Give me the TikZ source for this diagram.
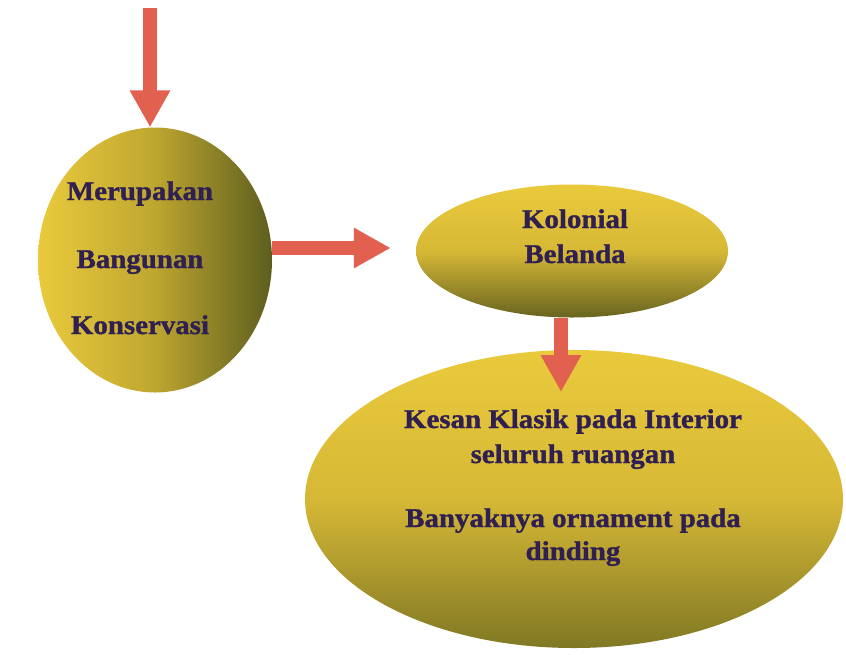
\documentclass[tikz,border=0pt]{standalone}
\usepackage{fontspec}
\setmainfont{Liberation Serif}
\newfontfamily\lblfont[FakeStretch=1.07,FakeBold=1.2]{Liberation Serif}
\usetikzlibrary{shapes.geometric,arrows.meta}
\definecolor{goldA}{RGB}{234,202,60}
\definecolor{goldM}{RGB}{214,184,54}
\definecolor{goldR}{RGB}{190,166,48}
\definecolor{oliveA}{RGB}{92,94,30}
\definecolor{oliveB}{RGB}{104,100,32}
\definecolor{oliveC}{RGB}{128,120,36}
\definecolor{inkpurple}{RGB}{48,32,82}
\definecolor{arrowred}{RGB}{226,96,80}
\tikzset{
  blob/.style={ellipse, draw=none, inner sep=0pt},
  lbl/.style={anchor=base, text=inkpurple, inner sep=0pt,
    font=\lblfont\bfseries\fontsize{27}{32}\selectfont},
  blockarrow/.style={draw=arrowred, line width=13.5pt,
    -{Triangle[width=38pt,length=37pt]}}
}
\begin{document}
\begin{tikzpicture}[x=1pt,y=-1pt]
\useasboundingbox (0,0) rectangle (846,654);

% shapes
\node[blob, minimum width=234pt, minimum height=265pt,
      left color=goldA, right color=oliveA, middle color=goldR] (c) at (155,260) {};
\node[blob, minimum width=312pt, minimum height=133pt,
      top color=goldA, bottom color=oliveB, middle color=goldM] (k) at (572,251) {};
\node[blob, minimum width=538pt, minimum height=298pt,
      top color=goldA, bottom color=oliveC, middle color=goldM] (e) at (574,499) {};

% connectors
\coordinate (t0) at (150,8);
\coordinate (t2) at (561,392);
\draw[blockarrow] (t0) -- ([xshift=-5pt]c.north);
\draw[blockarrow, shorten >=25pt] ([yshift=12pt]c.east) -- ([yshift=12pt]c.east -| k.west);
\draw[blockarrow] ([xshift=-11pt]k.south) -- (t2);

% labels
\node[lbl] (c1) at (140,200) {Merupakan};
\node[lbl] (c2) at (140,268) {Bangunan};
\node[lbl] (c3) at (140,334) {Konservasi};
\node[lbl] (k1) at (575,228) {Kolonial};
\node[lbl] (k2) at (575,263) {Belanda};
\node[lbl] (e1) at (573,428) {Kesan Klasik pada Interior};
\node[lbl] (e2) at (573,463) {seluruh ruangan};
\node[lbl] (e3) at (573,527) {Banyaknya ornament pada};
\node[lbl] (e4) at (573,560) {dinding};
\end{tikzpicture}
\end{document}
